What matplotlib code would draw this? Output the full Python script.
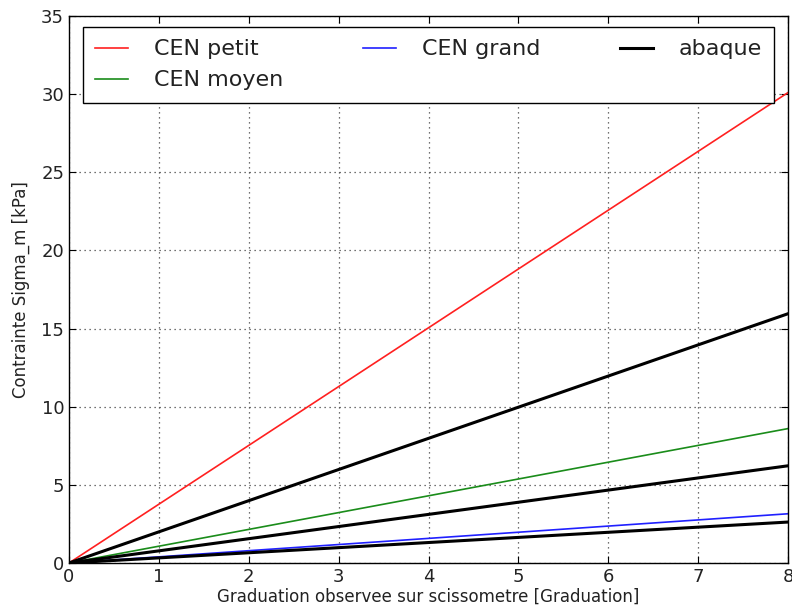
import matplotlib
matplotlib.use('Agg')
import matplotlib.pyplot as plt

graduation = [0, 8]

# contrainte (kPa) pour chaque palette
cen_petit = [0, 30.1]
cen_moyen = [0, 8.6]
cen_grand = [0, 3.15]
abaque_1 = [0, 15.95]
abaque_2 = [0, 6.22]
abaque_3 = [0, 2.62]


def main():
    fig = plt.figure(figsize=(7.92, 6.09), dpi=100)
    ax = fig.add_axes([69 / 792, 46 / 609, 719 / 792, 547 / 609])

    ax.plot(graduation, cen_petit, color='#ff2020', lw=1.2, label='CEN petit')
    ax.plot(graduation, cen_moyen, color='#1a8c1a', lw=1.2, label='CEN moyen')
    ax.plot(graduation, cen_grand, color='#2020ff', lw=1.2, label='CEN grand')
    ax.plot(graduation, abaque_1, color='black', lw=2.2, label='abaque')
    ax.plot(graduation, abaque_2, color='black', lw=2.2)
    ax.plot(graduation, abaque_3, color='black', lw=2.2)

    ax.set_xlim(0, 8)
    ax.set_ylim(0, 35)
    ax.set_xticks(range(0, 9))
    ax.set_yticks(range(0, 36, 5))
    ax.tick_params(direction='in', top=True, right=True, labelsize=13, length=5,
                   labelcolor='#222222')
    ax.grid(True, color='#444444', linestyle=(0, (1, 3)), linewidth=0.9)

    ax.set_xlabel('Graduation observee sur scissometre [Graduation]', fontsize=12,
                  labelpad=1, color='#222222')
    ax.set_ylabel('Contrainte Sigma_m [kPa]', fontsize=12, labelpad=8, color='#222222')

    leg = ax.legend(loc='upper center', ncol=3, fontsize=16, fancybox=False,
                    framealpha=1, edgecolor='black', handlelength=1.5,
                    handletextpad=1.15, columnspacing=3.6, borderaxespad=0.5,
                    labelspacing=0.5, borderpad=0.55)
    leg.get_frame().set_linewidth(1.0)
    for t in leg.get_texts():
        t.set_color('#222222')

    for s in ax.spines.values():
        s.set_linewidth(1.0)

    fig.savefig('out.png', dpi=100)


if __name__ == '__main__':
    main()
